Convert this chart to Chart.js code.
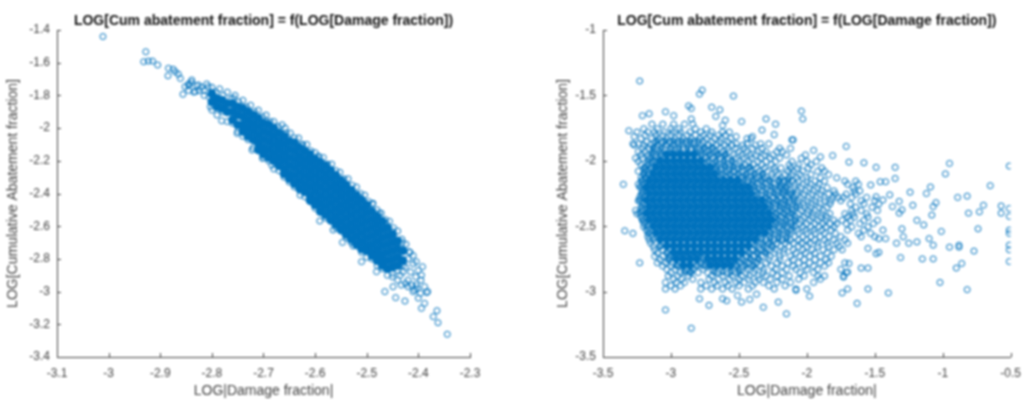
<!DOCTYPE html>
<html><head><meta charset="utf-8">
<script src="https://cdn.jsdelivr.net/npm/chart.js@4"></script>
<style>
html,body{margin:0;padding:0;background:#fff;width:1030px;height:400px;overflow:hidden}
.w{position:absolute;top:0;height:400px}
canvas{filter:blur(0.9px)}
</style></head><body>
<div class="w" style="left:0;width:515px"><canvas id="a"></canvas></div>
<div class="w" style="left:547px;width:483px"><canvas id="b"></canvas></div>
<script>
const titleText = 'LOG[Cum abatement fraction] = f(LOG[Damage fraction])';
const xLabel = 'LOG|Damage fraction|';
const yLabel = 'LOG[Cumulative Abatement fraction]';

// Left panel: columns of estimated readings, [x, [y...]]
const leftCore = [
[-2.80,[-1.79,-1.84]],[-2.79,[-1.82,-1.87]],[-2.78,[-1.83,-1.88]],[-2.77,[-1.85,-1.90]],[-2.76,[-1.85,-1.90,-1.95]],
[-2.75,[-1.87,-1.92,-1.98]],[-2.74,[-1.88,-1.93,-1.98,-2.02]],[-2.73,[-1.90,-1.95,-2.00,-2.05]],[-2.72,[-1.92,-1.97,-2.02,-2.07]],
[-2.71,[-1.94,-1.99,-2.04,-2.09,-2.13]],[-2.70,[-1.97,-2.02,-2.07,-2.12,-2.16]],[-2.69,[-1.98,-2.03,-2.08,-2.13,-2.18]],
[-2.68,[-2.00,-2.05,-2.10,-2.15,-2.20]],[-2.67,[-2.03,-2.08,-2.13,-2.18,-2.23]],[-2.66,[-2.05,-2.10,-2.15,-2.20,-2.25,-2.28]],
[-2.65,[-2.08,-2.13,-2.18,-2.23,-2.28,-2.31]],[-2.64,[-2.09,-2.14,-2.19,-2.24,-2.29,-2.34]],[-2.63,[-2.12,-2.17,-2.22,-2.27,-2.32,-2.37]],
[-2.62,[-2.14,-2.19,-2.24,-2.29,-2.34,-2.39]],[-2.61,[-2.16,-2.21,-2.26,-2.31,-2.36,-2.41,-2.44]],[-2.60,[-2.19,-2.24,-2.29,-2.34,-2.39,-2.44,-2.47]],
[-2.59,[-2.21,-2.26,-2.31,-2.36,-2.41,-2.46,-2.51]],[-2.58,[-2.23,-2.28,-2.33,-2.38,-2.43,-2.48,-2.53]],[-2.57,[-2.26,-2.31,-2.36,-2.41,-2.46,-2.51,-2.56]],
[-2.56,[-2.29,-2.34,-2.39,-2.44,-2.49,-2.54,-2.59]],[-2.55,[-2.32,-2.37,-2.42,-2.47,-2.52,-2.57,-2.62]],[-2.54,[-2.35,-2.40,-2.45,-2.50,-2.55,-2.60,-2.65]],
[-2.53,[-2.38,-2.43,-2.48,-2.53,-2.58,-2.63,-2.68]],[-2.52,[-2.41,-2.46,-2.51,-2.56,-2.61,-2.66,-2.71]],[-2.51,[-2.44,-2.49,-2.54,-2.59,-2.64,-2.69,-2.74]],
[-2.50,[-2.47,-2.52,-2.57,-2.62,-2.67,-2.72,-2.75]],[-2.49,[-2.51,-2.56,-2.61,-2.66,-2.71,-2.76,-2.78]],[-2.48,[-2.54,-2.59,-2.64,-2.69,-2.74,-2.78,-2.81]],
[-2.47,[-2.57,-2.62,-2.67,-2.72,-2.77,-2.81,-2.84]],[-2.46,[-2.61,-2.66,-2.71,-2.76,-2.81,-2.86]],[-2.45,[-2.65,-2.70,-2.75,-2.80,-2.85]],
[-2.44,[-2.69,-2.74,-2.79,-2.84]],[-2.43,[-2.75,-2.81]]
];
const leftFringe = [
[-2.80,-1.75],[-2.792,-1.78],[-2.785,-1.76],[-2.778,-1.80],[-2.77,-1.78],[-2.763,-1.82],[-2.755,-1.80],[-2.748,-1.84],[-2.74,-1.83],[-2.733,-1.87],[-2.725,-1.86],
[-2.717,-1.90],[-2.71,-1.89],[-2.702,-1.93],[-2.695,-1.92],[-2.687,-1.96],[-2.68,-1.96],[-2.672,-1.99],[-2.664,-1.98],[-2.656,-2.03],[-2.648,-2.03],[-2.64,-2.06],
[-2.632,-2.06],[-2.624,-2.10],[-2.616,-2.10],[-2.608,-2.14],[-2.60,-2.15],[-2.592,-2.18],[-2.584,-2.18],[-2.576,-2.22],[-2.568,-2.22],[-2.56,-2.26],[-2.552,-2.27],
[-2.544,-2.31],[-2.536,-2.31],[-2.528,-2.35],[-2.52,-2.36],[-2.512,-2.40],[-2.504,-2.41],[-2.496,-2.45],[-2.488,-2.46],[-2.48,-2.50],[-2.472,-2.52],[-2.464,-2.56],
[-2.456,-2.57],[-2.448,-2.61],[-2.44,-2.63],[-2.432,-2.68],[-2.424,-2.71],[-2.416,-2.76],[-2.41,-2.78],
[-2.845,-1.77],[-2.835,-1.78],[-2.825,-1.77],[-2.815,-1.80],[-2.80,-1.89],[-2.79,-1.92],[-2.78,-1.90],[-2.77,-1.96],[-2.76,-1.97],[-2.75,-2.02],[-2.74,-2.05],
[-2.73,-2.07],[-2.72,-2.12],[-2.71,-2.14],[-2.70,-2.18],[-2.69,-2.20],[-2.68,-2.25],[-2.67,-2.26],[-2.66,-2.30],[-2.65,-2.33],[-2.64,-2.36],[-2.63,-2.38],[-2.62,-2.42],
[-2.61,-2.45],[-2.60,-2.49],[-2.59,-2.50],[-2.58,-2.55],[-2.57,-2.57],[-2.56,-2.61],[-2.55,-2.63],[-2.54,-2.67],[-2.53,-2.70],[-2.52,-2.72],[-2.51,-2.76],[-2.50,-2.79],
[-2.49,-2.80],[-2.48,-2.84],[-2.47,-2.86],[-2.46,-2.90],[-2.45,-2.91],[-2.44,-2.93],
[-2.42,-2.93],[-2.435,-2.90],[-2.415,-2.88],[-2.41,-2.83],[-2.405,-2.91],[-2.425,-2.95],[-2.40,-2.87],[-2.395,-2.93],[-2.388,-2.97],[-2.402,-2.98],[-2.413,-2.96],
[-2.382,-3.0],[-2.396,-3.01],[-2.407,-2.99],[-2.43,-2.84],[-2.44,-2.87],[-2.45,-2.89],[-2.42,-2.80],[-2.425,-2.85],[-2.43,-2.88],
[-2.83,-1.74],[-2.84,-1.72],[-2.82,-1.75],[-2.81,-1.73],[-2.815,-1.77],[-2.805,-1.81],[-2.795,-1.84],[-2.845,-1.74]
];
const leftSparse = [
[-3.011,-1.44],[-2.928,-1.533],[-2.932,-1.594],[-2.923,-1.59],[-2.905,-1.614],[-2.884,-1.634],[-2.885,-1.68],[-2.871,-1.655],[-2.861,-1.696],
[-2.856,-1.793],[-2.852,-1.747],[-2.839,-1.706],[-2.826,-1.736],[-2.832,-1.777],[-2.807,-1.747],[-2.803,-1.869],[-2.781,-1.955],[-2.751,-2.032],
[-2.722,-2.134],[-2.702,-2.185],[-2.684,-2.226],[-2.658,-2.0],[-2.694,-1.96],[-2.758,-1.818],[-2.626,-2.103],[-2.594,-2.17],[-2.629,-2.41],
[-2.591,-2.568],[-2.565,-2.623],[-2.547,-2.699],[-2.526,-2.721],[-2.51,-2.817],[-2.489,-2.464],[-2.476,-2.52],[-2.463,-2.582],[-2.449,-2.633],
[-2.431,-2.70],[-2.418,-2.756],[-2.465,-3.0],[-2.444,-3.037],[-2.426,-3.058],[-2.481,-2.878],[-2.404,-2.817],[-2.392,-2.848],[-2.394,-2.899],
[-2.384,-3.006],[-2.388,-3.072],[-2.394,-3.102],[-2.40,-3.04],[-2.364,-3.117],[-2.371,-3.153],[-2.362,-3.19],[-2.344,-3.261],[-2.41,-3.0],
[-2.433,-2.96],[-2.42,-2.97],[-2.404,-2.96],[-2.449,-2.97],[-2.915,-1.59],[-2.875,-1.64],[-2.865,-1.67],[-2.845,-1.73]
];

// Right panel: rows of estimated readings, [y, [x...]]
const rightCore = [
[-1.95,[-3.03,-2.98,-2.93,-2.88,-2.83]],
[-2.00,[-3.08,-3.03,-2.98,-2.93,-2.88,-2.83,-2.78]],
[-2.05,[-3.11,-3.06,-3.01,-2.96,-2.91,-2.86,-2.81,-2.76,-2.71]],
[-2.10,[-3.13,-3.08,-3.03,-2.98,-2.93,-2.88,-2.83,-2.78,-2.73,-2.68]],
[-2.15,[-3.16,-3.11,-3.06,-3.01,-2.96,-2.91,-2.86,-2.81,-2.76,-2.71,-2.66,-2.61,-2.56,-2.51]],
[-2.20,[-3.18,-3.13,-3.08,-3.03,-2.98,-2.93,-2.88,-2.83,-2.78,-2.73,-2.68,-2.63,-2.58,-2.53,-2.48,-2.43]],
[-2.25,[-3.16,-3.11,-3.06,-3.01,-2.96,-2.91,-2.86,-2.81,-2.76,-2.71,-2.66,-2.61,-2.56,-2.51,-2.46,-2.41]],
[-2.30,[-3.18,-3.13,-3.08,-3.03,-2.98,-2.93,-2.88,-2.83,-2.78,-2.73,-2.68,-2.63,-2.58,-2.53,-2.48,-2.43,-2.38,-2.33]],
[-2.35,[-3.16,-3.11,-3.06,-3.01,-2.96,-2.91,-2.86,-2.81,-2.76,-2.71,-2.66,-2.61,-2.56,-2.51,-2.46,-2.41,-2.36,-2.31]],
[-2.40,[-3.18,-3.13,-3.08,-3.03,-2.98,-2.93,-2.88,-2.83,-2.78,-2.73,-2.68,-2.63,-2.58,-2.53,-2.48,-2.43,-2.38,-2.33,-2.28]],
[-2.45,[-3.16,-3.11,-3.06,-3.01,-2.96,-2.91,-2.86,-2.81,-2.76,-2.71,-2.66,-2.61,-2.56,-2.51,-2.46,-2.41,-2.36,-2.31,-2.26]],
[-2.50,[-3.13,-3.08,-3.03,-2.98,-2.93,-2.88,-2.83,-2.78,-2.73,-2.68,-2.63,-2.58,-2.53,-2.48,-2.43,-2.38,-2.33,-2.28]],
[-2.55,[-3.11,-3.06,-3.01,-2.96,-2.91,-2.86,-2.81,-2.76,-2.71,-2.66,-2.61,-2.56,-2.51,-2.46,-2.41,-2.36,-2.31]],
[-2.60,[-3.08,-3.03,-2.98,-2.93,-2.88,-2.83,-2.78,-2.73,-2.68,-2.63,-2.58,-2.53,-2.48,-2.43,-2.38]],
[-2.65,[-3.03,-2.98,-2.93,-2.88,-2.83,-2.78,-2.73,-2.68,-2.63,-2.58,-2.53,-2.48,-2.43]],
[-2.70,[-2.98,-2.93,-2.88,-2.83,-2.78,-2.73,-2.68,-2.63,-2.58,-2.53,-2.48]],
[-2.75,[-2.96,-2.91,-2.86,-2.81,-2.73,-2.68,-2.63,-2.58,-2.53]],
[-2.80,[-2.91,-2.86,-2.71,-2.66,-2.61,-2.56]]
];
const rightHalo = [
[-1.85,[-3.1,-3.04,-2.98,-2.92,-2.86,-2.8]],
[-1.90,[-3.13,-3.07,-3.0,-2.94,-2.88,-2.82,-2.76,-2.7]],
[-1.95,[-3.14,-3.08,-2.78,-2.72,-2.66,-2.6]],
[-2.00,[-3.17,-3.12,-2.73,-2.67,-2.61,-2.55]],
[-2.05,[-3.19,-3.15,-2.66,-2.6,-2.54,-2.48,-2.42]],
[-2.10,[-3.2,-3.17,-2.63,-2.57,-2.51,-2.45,-2.39,-2.33]],
[-2.15,[-3.21,-2.46,-2.4,-2.34,-2.28,-2.2,-2.14]],
[-2.20,[-3.23,-2.38,-2.32,-2.26,-2.2,-2.15]],
[-2.25,[-3.21,-2.36,-2.3,-2.24,-2.18,-2.12]],
[-2.30,[-3.23,-2.28,-2.22,-2.16,-2.1]],
[-2.35,[-3.21,-2.26,-2.2,-2.14,-2.08]],
[-2.40,[-3.23,-2.23,-2.17,-2.11]],
[-2.45,[-3.21,-2.21,-2.15,-2.09]],
[-2.50,[-3.18,-2.23,-2.17,-2.11]],
[-2.55,[-3.16,-2.26,-2.2,-2.14]],
[-2.60,[-3.13,-2.33,-2.27,-2.21,-2.15]],
[-2.65,[-3.08,-2.38,-2.32,-2.26]],
[-2.70,[-3.03,-2.43,-2.37,-2.31]],
[-2.75,[-3.01,-2.76,-2.48,-2.42,-2.36]],
[-2.80,[-2.96,-2.81,-2.76,-2.51,-2.45,-2.39]],
[-2.85,[-2.9,-2.85,-2.68,-2.62,-2.56,-2.5]]
];
const rightMid = [
[-1.72,[-3.14,-3.06,-2.98,-2.90,-2.84]],
[-1.78,[-3.25,-3.17,-3.12,-3.05,-2.99,-2.93,-2.86,-2.78,-2.70,-2.62,-2.57]],
[-1.83,[-3.22,-3.14,-3.09,-3.03,-2.97,-2.91,-2.85,-2.79,-2.74,-2.68,-2.63,-2.56,-2.44,-2.41]],
[-1.88,[-3.27,-3.2,-3.15,-3.1,-3.04,-2.99,-2.94,-2.88,-2.83,-2.77,-2.72,-2.66,-2.6,-2.55,-2.47,-2.38]],
[-1.93,[-3.24,-3.19,-3.13,-3.08,-2.78,-2.73,-2.67,-2.62,-2.57,-2.5,-2.44,-2.36,-2.3,-2.22,-2.18]],
[-1.98,[-3.26,-3.21,-3.16,-3.11,-2.74,-2.69,-2.64,-2.59,-2.53,-2.47,-2.41,-2.34,-2.27,-2.2,-2.04]],
[-2.03,[-3.22,-3.17,-2.66,-2.61,-2.56,-2.5,-2.45,-2.39,-2.33,-2.26,-2.13,-2.06,-1.97]],
[-2.08,[-3.24,-3.19,-2.63,-2.58,-2.53,-2.47,-2.41,-2.35,-2.29,-2.23,-2.14,-2.1,-2.03,-1.92,-1.87]],
[-2.13,[-3.22,-3.18,-2.6,-2.54,-2.49,-2.44,-2.38,-2.32,-2.26,-2.19,-2.13,-2.07,-2.0,-1.9,-1.78]],
[-2.18,[-3.24,-3.2,-2.47,-2.41,-2.36,-2.3,-2.24,-2.19,-2.14,-2.09,-2.03,-1.97,-1.91,-1.7,-1.62]],
[-2.23,[-3.21,-2.38,-2.33,-2.27,-2.22,-2.17,-2.12,-2.07,-2.01,-1.95,-1.89,-1.8,-1.65,-1.61]],
[-2.28,[-3.23,-3.19,-2.3,-2.25,-2.2,-2.15,-2.1,-2.05,-1.99,-1.93,-1.87,-1.81,-1.77,-1.73,-1.67,-1.56]],
[-2.33,[-3.2,-2.28,-2.23,-2.18,-2.13,-2.07,-2.02,-1.96,-1.9,-1.83,-1.68,-1.58,-1.47]],
[-2.38,[-3.26,-3.21,-2.26,-2.2,-2.15,-2.1,-2.04,-1.99,-1.94,-1.88,-1.67,-1.6,-1.48]],
[-2.43,[-3.22,-2.24,-2.19,-2.13,-2.08,-2.02,-1.96,-1.9,-1.85,-1.7,-1.65,-1.55]],
[-2.48,[-3.2,-2.22,-2.16,-2.11,-2.05,-2.0,-1.94,-1.88,-1.83,-1.78,-1.71,-1.61,-1.51]],
[-2.53,[-3.18,-2.24,-2.18,-2.12,-2.07,-2.01,-1.95,-1.89,-1.82,-1.7,-1.58,-1.44]],
[-2.58,[-3.17,-2.27,-2.21,-2.15,-2.09,-2.03,-1.97,-1.9,-1.84,-1.75,-1.6,-1.5]],
[-2.63,[-3.15,-2.33,-2.28,-2.22,-2.16,-2.1,-2.04,-1.98,-1.92,-1.85,-1.78,-1.7]],
[-2.68,[-3.12,-3.06,-2.4,-2.35,-2.29,-2.23,-2.17,-2.1,-2.03,-1.96,-1.88,-1.8,-1.74]],
[-2.73,[-3.12,-3.06,-3.01,-2.44,-2.39,-2.33,-2.27,-2.2,-2.12,-2.05,-1.98,-1.9,-1.82]],
[-2.78,[-3.1,-3.04,-2.99,-2.78,-2.49,-2.43,-2.37,-2.3,-2.22,-2.14,-2.06,-1.98,-1.9,-1.84,-1.72]],
[-2.83,[-3.03,-2.97,-2.89,-2.84,-2.76,-2.5,-2.44,-2.38,-2.32,-2.23,-2.15,-2.08,-2.0,-1.92,-1.75]],
[-2.88,[-3.02,-2.95,-2.87,-2.7,-2.62,-2.55,-2.48,-2.42,-2.36,-2.3,-2.22,-2.13,-2.02,-1.92,-1.87,-1.73]],
[-2.93,[-3.04,-2.96,-2.9,-2.78,-2.68,-2.6,-2.52,-2.46,-2.38,-2.32,-2.22,-2.12,-1.95]],
[-2.98,[-3.04,-2.97,-2.78,-2.7,-2.62,-2.55,-2.43,-2.24,-2.08,-2.0]],
[-1.755,[-3.2,-3.1,-3.0,-2.94,-2.82,-2.74]],
[-1.805,[-3.19,-3.11,-3.06,-3.0,-2.94,-2.88,-2.82,-2.76,-2.71,-2.65,-2.6]],
[-1.815,[-3.27,-2.52,-2.4]],
[-1.855,[-3.18,-3.12,-3.06,-3.01,-2.95,-2.89,-2.83,-2.76,-2.7,-2.64,-2.58]],
[-1.87,[-3.28,-3.24,-2.52,-2.44,-2.34,-2.28]],
[-1.905,[-3.21,-3.16,-3.11,-3.05,-3.0,-2.95,-2.9,-2.85,-2.8,-2.75,-2.69,-2.64,-2.58,-2.52,-2.46,-2.4,-2.33,-2.2,-2.12]],
[-1.955,[-3.22,-3.17,-3.12,-3.07,-2.77,-2.71,-2.65,-2.6,-2.54,-2.48,-2.42,-2.37,-2.31,-2.25,-2.15,-2.01]],
[-2.005,[-3.24,-3.14,-3.12,-2.72,-2.67,-2.61,-2.55,-2.49,-2.43,-2.36,-2.3,-2.23,-2.11,-2.0,-1.93]],
[-2.055,[-3.2,-3.14,-2.68,-2.63,-2.57,-2.51,-2.43,-2.37,-2.31,-2.24,-2.19,-2.12,-2.07,-1.99,-1.89]],
[-2.105,[-3.2,-3.16,-2.62,-2.56,-2.5,-2.44,-2.38,-2.32,-2.26,-2.21,-2.16,-2.11,-2.05,-1.97,-1.84]],
[-2.155,[-3.22,-2.44,-2.39,-2.33,-2.27,-2.21,-2.17,-2.11,-2.06,-2.0,-1.94,-1.87,-1.72,-1.64]],
[-2.205,[-3.19,-2.36,-2.3,-2.24,-2.19,-2.15,-2.09,-2.04,-1.98,-1.92,-1.85,-1.66]],
[-2.255,[-3.22,-2.34,-2.28,-2.22,-2.17,-2.12,-2.07,-2.02,-1.96,-1.9,-1.84,-1.79,-1.71,-1.64]],
[-2.305,[-3.24,-2.27,-2.22,-2.17,-2.12,-2.06,-2.0,-1.94,-1.87,-1.82,-1.75,-1.6,-1.5]],
[-2.355,[-3.22,-2.24,-2.19,-2.14,-2.08,-2.02,-1.97,-1.91,-1.85,-1.64,-1.52]],
[-2.405,[-3.25,-2.22,-2.17,-2.12,-2.06,-2.0,-1.95,-1.89,-1.83,-1.72,-1.66,-1.56]],
[-2.455,[-3.21,-2.2,-2.15,-2.09,-2.04,-1.98,-1.92,-1.86,-1.8,-1.74,-1.68,-1.58,-1.48]],
[-2.505,[-3.2,-2.21,-2.15,-2.09,-2.03,-1.97,-1.91,-1.86,-1.8,-1.67,-1.55]],
[-2.555,[-3.17,-2.24,-2.18,-2.12,-2.06,-2.0,-1.94,-1.87,-1.79,-1.62,-1.53]],
[-2.605,[-3.16,-2.3,-2.24,-2.18,-2.12,-2.06,-2.0,-1.94,-1.87,-1.8,-1.72]],
[-2.655,[-3.13,-3.08,-2.36,-2.3,-2.25,-2.19,-2.13,-2.06,-2.0,-1.92,-1.84,-1.76]],
[-2.705,[-3.1,-3.03,-2.42,-2.36,-2.3,-2.24,-2.17,-2.08,-2.01,-1.94,-1.85]],
[-2.755,[-3.08,-3.02,-2.79,-2.47,-2.41,-2.35,-2.28,-2.2,-2.1,-2.02,-1.94,-1.86]],
[-2.805,[-3.06,-3.0,-2.95,-2.81,-2.75,-2.52,-2.47,-2.4,-2.34,-2.26,-2.18,-2.1,-2.02,-1.95,-1.87]],
[-2.855,[-3.0,-2.93,-2.86,-2.8,-2.73,-2.66,-2.58,-2.52,-2.45,-2.39,-2.32,-2.25,-2.18,-2.05,-1.95,-1.71]],
[-2.905,[-2.98,-2.92,-2.84,-2.72,-2.65,-2.57,-2.5,-2.43,-2.35,-2.27,-2.18,-2.06,-1.9]],
[-2.955,[-3.0,-2.93,-2.74,-2.66,-2.58,-2.5,-2.4,-2.28,-2.16]]
];
const rightSparse = [
[-3.23,-1.39],[-2.77,-1.46],[-2.79,-1.49],[-2.54,-1.505],[-2.87,-1.58],[-2.85,-1.60],[-2.70,-1.59],[-2.64,-1.61],[-2.67,-1.66],[-2.60,-1.69],[-2.62,-1.73],
[-2.48,-1.70],[-2.30,-1.68],[-2.23,-1.72],[-2.33,-1.765],[-2.24,-1.80],[-2.04,-1.62],[-2.03,-1.68],[-2.10,-1.84],[-2.11,-1.84],[-1.71,-1.89],[-1.95,-1.92],
[-1.81,-1.96],[-1.90,-1.97],[-1.58,-2.015],[-1.69,-2.01],[-1.49,-2.05],[-1.35,-2.05],[-0.95,-2.02],[-0.98,-2.10],[-0.51,-2.04],[-1.35,-2.135],[-1.42,-2.16],
[-1.46,-2.16],[-1.09,-2.20],[-1.12,-2.25],[-1.24,-2.24],[-0.65,-2.19],[-0.89,-2.28],[-0.82,-2.27],[-1.05,-2.32],[-1.07,-2.35],[-1.22,-2.34],[-1.39,-2.26],
[-0.70,-2.34],[-0.73,-2.39],[-0.81,-2.40],[-0.57,-2.345],[-0.57,-2.40],[-0.51,-2.365],[-0.51,-2.425],[-1.08,-2.415],[-1.19,-2.455],[-1.14,-2.49],[-1.01,-2.54],
[-0.74,-2.52],[-0.51,-2.53],[-0.51,-2.555],[-1.10,-2.595],[-1.07,-2.645],[-1.19,-2.62],[-1.25,-2.63],[-1.34,-2.63],[-0.95,-2.66],[-0.88,-2.645],[-0.88,-2.66],
[-0.77,-2.69],[-0.51,-2.645],[-0.51,-2.68],[-1.15,-2.75],[-1.07,-2.75],[-1.31,-2.74],[-0.86,-2.785],[-0.90,-2.82],[-0.51,-2.77],[-1.02,-2.93],[-0.82,-2.985],
[-1.40,-3.01],[-1.55,-2.98],[-1.63,-3.09],[-1.74,-3.01],[-1.70,-2.98],[-2.15,-3.17],[-2.32,-3.12],[-2.21,-3.08],[-2.42,-3.06],[-2.48,-3.08],[-2.51,-3.03],
[-2.37,-3.02],[-2.85,-3.28],[-3.04,-3.14],[-2.72,-3.105],[-2.79,-3.055],[-2.59,-3.07],[-2.62,-3.055],[-1.98,-3.035],[-2.08,-2.99],[-3.35,-2.18],[-3.34,-2.535],
[-3.28,-2.555],[-3.23,-2.78],[-3.31,-1.77],[-3.21,-1.655],[-3.16,-1.64],[-3.04,-1.625],[-2.98,-1.655],[-2.85,-1.68],[-1.55,-2.82],[-1.60,-2.82],[-1.47,-2.70],
[-1.49,-2.71],[-1.55,-2.67],[-1.69,-2.785],[-1.73,-2.89],[-1.70,-2.85],[-1.42,-2.595],[-1.47,-2.595],[-1.32,-2.40],[-1.30,-2.375],[-1.32,-2.31],[-1.30,-2.52],
[-1.29,-2.58],[-1.37,-2.35],[-1.44,-2.30],[-1.49,-2.275],[-1.53,-2.185]
];

const leftXTicks = [-3.1,-3,-2.9,-2.8,-2.7,-2.6,-2.5,-2.4,-2.3];
const leftYTicks = [-3.4,-3.2,-3,-2.8,-2.6,-2.4,-2.2,-2,-1.8,-1.6,-1.4];
const rightXTicks = [-3.5,-3,-2.5,-2,-1.5,-1,-0.5];
const rightYTicks = [-3.5,-3,-2.5,-2,-1.5,-1];

const colBlue = '#0072BD', colAxis = '#404040';
const byX = t => t.flatMap(([x,ys]) => ys.map(y => ({x,y})));
const byY = t => t.flatMap(([y,xs]) => xs.map(x => ({x,y})));
const pairs = t => t.map(([x,y]) => ({x,y}));

const innerTicks = {
  id:'innerTicks',
  afterDraw(c){
    const g=c.ctx,a=c.chartArea,xs=c.scales.x,ys=c.scales.y;
    g.save();g.strokeStyle=colAxis;g.lineWidth=1;g.beginPath();
    xs.ticks.forEach(t=>{const p=Math.round(xs.getPixelForValue(t.value))+.5;g.moveTo(p,a.bottom);g.lineTo(p,a.bottom-4);});
    ys.ticks.forEach(t=>{const p=Math.round(ys.getPixelForValue(t.value))+.5;g.moveTo(a.left,p);g.lineTo(a.left+4,p);});
    g.stroke();g.restore();
  }
};
const fam = '"Liberation Sans", Arial, sans-serif';
function axis(list,title,isY,yAxisW,titlePad){
  return {
    type:'linear',min:list[0],max:list[list.length-1],
    afterBuildTicks:s=>{s.ticks=list.map(value=>({value}));},
    grid:{display:false,drawTicks:false},
    border:{display:true,color:colAxis,width:1},
    ticks:{color:colAxis,font:{family:fam,size:12},padding:isY?7:9,maxRotation:0,autoSkip:false,
      callback:v=>String(Number(v.toFixed(1)))},
    title:{display:true,text:title,color:colAxis,font:{family:fam,size:14},padding:titlePad},
    afterFit:s=>{ if(isY) s.width=yAxisW; else s.height=43; }
  };
}
function make(id,core,halo,mid,sparse,xl,yl,yw,rightPad,yTitleTop,solidR){
  return new Chart(document.getElementById(id),{
    type:'scatter',
    data:{datasets:[
      {data:sparse,pointRadius:3,borderWidth:1,borderColor:colBlue,backgroundColor:'rgba(0,0,0,0)'},
      {data:mid,pointRadius:3,borderWidth:1,borderColor:colBlue,backgroundColor:'rgba(0,0,0,0)'},
      {data:halo,pointRadius:3,borderWidth:1,borderColor:colBlue,backgroundColor:'rgba(0,114,189,0.55)'},
      {data:core,pointRadius:solidR,borderWidth:1,borderColor:colBlue,backgroundColor:colBlue}
    ]},
    options:{
      responsive:true,maintainAspectRatio:false,animation:false,
      layout:{padding:{left:0,right:rightPad,top:0,bottom:0}},
      plugins:{
        legend:{display:false},tooltip:{enabled:false},
        title:{display:true,text:titleText,color:'#111',fullSize:false,
          font:{family:fam,size:14,weight:'bold'},padding:{top:13,bottom:0.2}}
      },
      scales:{
        x:axis(xl,xLabel,false,0,{top:4,bottom:0}),
        y:axis(yl,yLabel,true,yw,{top:yTitleTop,bottom:2})
      }
    },
    plugins:[innerTicks]
  });
}
make('a',byX(leftCore),[],pairs(leftFringe),pairs(leftSparse),leftXTicks,leftYTicks,57,45,5,4);
make('b',byY(rightCore),byY(rightHalo),byY(rightMid),pairs(rightSparse),rightXTicks,rightYTicks,56,13,8,3.6);
</script>
</body></html>
